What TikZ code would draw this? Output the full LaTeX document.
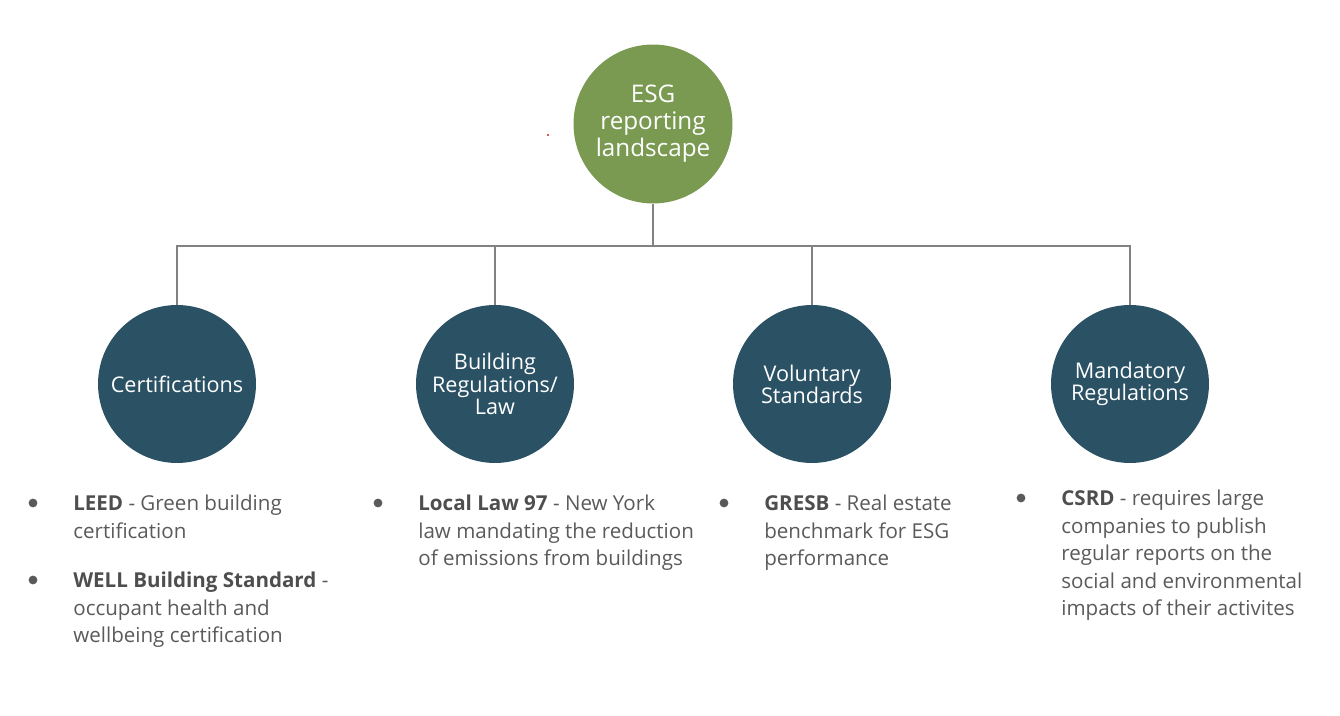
\documentclass[tikz,border=0pt]{standalone}
\usepackage{fontspec}
\setmainfont{Open Sans}
\usepackage{tikz}
\usetikzlibrary{positioning}

\definecolor{esggreen}{RGB}{122,154,82}
\definecolor{esgteal}{RGB}{42,81,100}
\definecolor{linkgray}{RGB}{130,130,130}
\definecolor{bodygray}{RGB}{90,90,90}
\definecolor{termgray}{RGB}{78,78,78}
\definecolor{dotred}{RGB}{210,30,30}

\begin{document}
\begin{tikzpicture}[
        x=0.02cm, y=-0.02cm,
        rootcircle/.style={circle, fill=esggreen, minimum size=3.18cm, inner sep=0pt, align=center,
            text=white, font=\fontsize{13.8pt}{15.3pt}\selectfont},
        catcircle/.style={circle, fill=esgteal, minimum size=3.16cm, inner sep=0pt, align=center,
            text=white, font=\fontsize{12.3pt}{12.6pt}\selectfont},
        link/.style={draw=linkgray, line width=1.1pt},
        bulletdot/.style={circle, fill=bodygray, minimum size=5pt, inner sep=0pt},
        bullettext/.style={anchor=north west, inner sep=0pt, align=left, text=bodygray,
            font=\fontsize{11.7pt}{15.6pt}\selectfont},
        term/.style={font=\bfseries}
    ]
    \useasboundingbox (0,0) rectangle (1340,716);

    % --- Root node ---
    \node[rootcircle] (esg) at (653,124) {ESG\\reporting\\landscape};
    \fill[dotred] (548,135) circle (1.2);

    % --- Category circles ---
    \node[catcircle] (cert) at (177,384) {Certifications};
    \node[catcircle] (build) at (495,384) {Building\\Regulations/\\Law};
    \node[catcircle] (volun) at (812,384) {Voluntary\\Standards};
    \node[catcircle] (mand) at (1130,384) {Mandatory\\Regulations};

    % --- Tree connectors ---
    \coordinate (hub) at (653,246);
    \draw[link] (esg.south) -- (hub);
    \draw[link] (cert.north) |- (hub) -| (mand.north);
    \draw[link] (build.north) -- (build.north |- hub);
    \draw[link] (volun.north) -- (volun.north |- hub);

    % --- Certifications bullets ---
    \node[bulletdot] (certdota) at (33,503) {};
    \node[bullettext] (certleed) at (73,495) {\textbf{\color{termgray}LEED} - Green building\\certification};
    \node[bulletdot] (certdotb) at (33,580) {};
    \node[bullettext] (certwell) at (73,572) {\textbf{\color{termgray}WELL Building Standard} -\\occupant health and\\wellbeing certification};

    % --- Building regulations bullet ---
    \node[bulletdot] (builddot) at (378,503) {};
    \node[bullettext] (buildll) at (418,495) {\textbf{\color{termgray}Local Law 97} - New York\\law mandating the reduction\\of emissions from buildings};

    % --- Voluntary standards bullet ---
    \node[bulletdot] (volundot) at (724,503) {};
    \node[bullettext] (volungresb) at (764,495) {\textbf{\color{termgray}GRESB} - Real estate\\benchmark for ESG\\performance};

    % --- Mandatory regulations bullet ---
    \node[bulletdot] (manddot) at (1021,498) {};
    \node[bullettext] (mandcsrd) at (1061,490) {\textbf{\color{termgray}CSRD} - requires large\\companies to publish\\regular reports on the\\social and environmental\\impacts of their activites};
\end{tikzpicture}
\end{document}
